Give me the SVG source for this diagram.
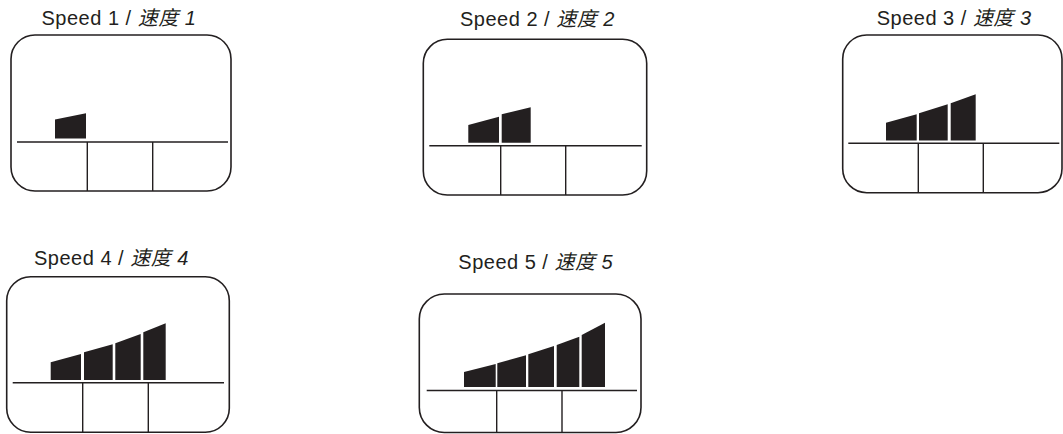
<svg xmlns="http://www.w3.org/2000/svg" width="1063" height="434" viewBox="0 0 1063 434">
<style>
.bg{fill:#ffffff}
.box{fill:none;stroke:#231f20;stroke-width:1.6}
.ln{fill:none;stroke:#231f20;stroke-width:1.4}
.bar{fill:#231f20}
.lbl{font-family:"Liberation Sans","Noto Sans CJK SC",sans-serif;font-size:20px;letter-spacing:0.5px;fill:#231f20}
.it{font-style:italic}
</style>
<rect class="bg" x="0" y="0" width="1063" height="434"/>
<g id="speed1">
<text class="lbl" x="41.5" y="25">Speed 1 / <tspan class="it">速度 1</tspan></text>
<rect class="box" x="11" y="35" width="220" height="156" rx="24"/>
<path class="ln" d="M17 142H228M87.3 142V191M152.7 142V191"/>
<polygon class="bar" points="55,138.5 55,119.5 86,113.3 86,138.5"/>
</g>
<g id="speed2">
<text class="lbl" x="460" y="26">Speed 2 / <tspan class="it">速度 2</tspan></text>
<rect class="box" x="423.3" y="39.3" width="223.4" height="155.7" rx="24"/>
<path class="ln" d="M429.3 145.7H641.7M500.7 145.7V195M565.7 145.7V195"/>
<polygon class="bar" points="468.3,142.7 468.3,125 499,116.7 499,142.7"/>
<polygon class="bar" points="501.7,142.7 501.7,114.3 530.7,107.3 530.7,142.7"/>
</g>
<g id="speed3">
<text class="lbl" x="876.7" y="25">Speed 3 / <tspan class="it">速度 3</tspan></text>
<rect class="box" x="842.7" y="35" width="219.3" height="157.7" rx="24"/>
<path class="ln" d="M848.3 143.3H1059.3M918.3 143.3V192.7M983.3 143.3V192.7"/>
<polygon class="bar" points="886,140.5 886,122.7 916.7,114.3 916.7,140.5"/>
<polygon class="bar" points="919,140.5 919,113.3 947.7,104.3 947.7,140.5"/>
<polygon class="bar" points="950.7,140.5 950.7,103.3 975.7,94.3 975.7,140.5"/>
</g>
<g id="speed4">
<text class="lbl" x="34" y="265">Speed 4 / <tspan class="it">速度 4</tspan></text>
<rect class="box" x="6.7" y="276.7" width="222.6" height="155.6" rx="24"/>
<path class="ln" d="M12.7 382.7H224M82.7 382.7V432.3M148.3 382.7V432.3"/>
<polygon class="bar" points="50.7,380 50.7,362.3 81,354 81,380"/>
<polygon class="bar" points="84,380 84,352.3 112.7,344.3 112.7,380"/>
<polygon class="bar" points="115.3,380 115.3,343.3 140.7,334 140.7,380"/>
<polygon class="bar" points="143.3,380 143.3,332.3 165.7,323.3 165.7,380"/>
</g>
<g id="speed5">
<text class="lbl" x="458.3" y="269.3">Speed 5 / <tspan class="it">速度 5</tspan></text>
<rect class="box" x="419.3" y="294" width="221.7" height="138.5" rx="25"/>
<path class="ln" d="M426.7 390.5H637M496.7 390.5V432.5M562 390.5V432.5"/>
<polygon class="bar" points="464,387 464,372 495.7,364 495.7,387"/>
<polygon class="bar" points="497.3,387 497.3,363.3 526,355.3 526,387"/>
<polygon class="bar" points="528.3,387 528.3,354.3 554,346 554,387"/>
<polygon class="bar" points="556.7,387 556.7,345 579.3,336.7 579.3,387"/>
<polygon class="bar" points="581.7,387 581.7,335 605,322.7 605,387"/>
</g>
<g id="connectors"/>
</svg>
